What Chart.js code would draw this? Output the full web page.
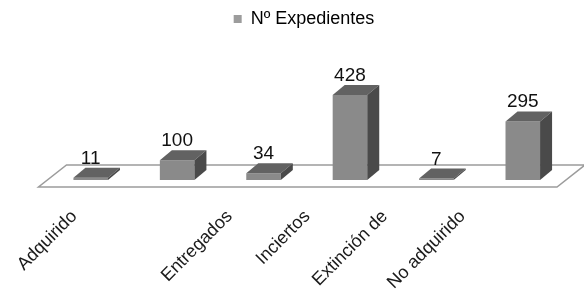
<!DOCTYPE html>
<html><head><meta charset="utf-8">
<script src="https://cdn.jsdelivr.net/npm/chart.js@4.4.0/dist/chart.umd.min.js"></script>
<style>html,body{margin:0;padding:0;background:#fff}#wrap{width:584px;height:298px;position:relative}</style>
</head><body><div id="wrap"><canvas id="c"></canvas></div>
<script>
// ---- data ----
const categories = ['Adquirido', 'Retirado', 'Entregados', 'Inciertos', 'Extinción de', 'No adquirido'];
const tickLabels = ['Adquirido', '', 'Entregados', 'Inciertos', 'Extinción de', 'No adquirido'];
const seriesName = 'Nº Expedientes';
const values = [11, 100, 34, 428, 7, 295];

const FONT = '"Liberation Sans", Arial, Helvetica, sans-serif';
const FRONT = '#8a8a8a', TOP = '#626262', SIDE = '#4a4a4a';
const DX = 12, DY = 10;
// label axis range (front edge of the floor is narrower than the bar row)
const LABEL_MIN = -0.344, LABEL_MAX = 6.331;

const bars3d = {
  id: 'bars3d',
  beforeDatasetsDraw(chart) {
    const {ctx, chartArea} = chart;
    const y0 = chart.scales.y.getPixelForValue(0);
    const l = chartArea.left, r = chartArea.right;
    ctx.save();
    ctx.beginPath();
    ctx.moveTo(l - 9, y0 + 7);
    ctx.lineTo(r - 9, y0 + 7);
    ctx.lineTo(r + 19, y0 - 15);
    ctx.lineTo(l + 19, y0 - 15);
    ctx.closePath();
    ctx.fillStyle = '#ffffff';
    ctx.fill();
    ctx.lineWidth = 1.5;
    ctx.strokeStyle = '#9c9c9c';
    ctx.stroke();
    ctx.restore();
  },
  afterDatasetsDraw(chart) {
    const {ctx} = chart;
    const meta = chart.getDatasetMeta(0);
    ctx.save();
    meta.data.forEach((bar, i) => {
      const {x, y, base, width} = bar.getProps(['x', 'y', 'base', 'width'], true);
      const L = x - width / 2, R = x + width / 2;
      ctx.beginPath();
      ctx.moveTo(L, y); ctx.lineTo(R, y); ctx.lineTo(R + DX, y - DY); ctx.lineTo(L + DX, y - DY);
      ctx.closePath(); ctx.fillStyle = TOP; ctx.fill();
      ctx.beginPath();
      ctx.moveTo(R, y); ctx.lineTo(R + DX, y - DY); ctx.lineTo(R + DX, base - DY); ctx.lineTo(R, base);
      ctx.closePath(); ctx.fillStyle = SIDE; ctx.fill();
      ctx.fillStyle = '#111';
      ctx.font = '19px ' + FONT;
      ctx.textAlign = 'center';
      ctx.textBaseline = 'alphabetic';
      ctx.fillText(String(values[i]), x, y - DY - 4);
    });
    ctx.restore();
  }
};

new Chart(document.getElementById('c'), {
  type: 'bar',
  data: {
    labels: categories,
    datasets: [{
      label: seriesName,
      data: values,
      backgroundColor: FRONT,
      borderWidth: 0,
      categoryPercentage: 1,
      barPercentage: 0.4,
      xAxisID: 'x', yAxisID: 'y'
    }]
  },
  options: {
    responsive: true,
    maintainAspectRatio: false,
    animation: false,
    devicePixelRatio: 1,
    layout: {padding: {left: 42, right: 18, top: 0, bottom: 0}},
    plugins: {
      legend: {
        display: true,
        position: 'top',
        labels: {
          boxWidth: 8, boxHeight: 8, color: '#1a1a1a',
          font: {family: FONT, size: 18},
          generateLabels: () => [{text: seriesName, fillStyle: '#9c9c9c', strokeStyle: 'rgba(0,0,0,0)', lineWidth: 0, datasetIndex: 0}]
        }
      },
      tooltip: {enabled: false}
    },
    scales: {
      x: {type: 'category', display: false, offset: true},
      y: {display: false, min: 0, max: 715},
      x2: {
        type: 'linear', axis: 'x', position: 'bottom',
        offset: false,
        min: LABEL_MIN, max: LABEL_MAX, bounds: 'data',
        grid: {display: false, offset: false}, border: {display: false},
        afterBuildTicks: s => {
          s.ticks = tickLabels.map((_, i) => ({value: i}));
        },
        afterFit: s => { s.height = 118; },
        ticks: {
          autoSkip: false, minRotation: 45, maxRotation: 45, padding: 18,
          color: '#1a1a1a', font: {family: FONT, size: 18},
          callback: v => tickLabels[Math.round(v)] || ''
        }
      }
    }
  },
  plugins: [bars3d]
});
</script></body></html>
